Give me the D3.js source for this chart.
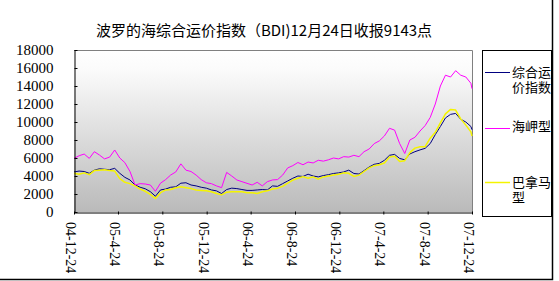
<!DOCTYPE html>
<html>
<head>
<meta charset="utf-8">
<script src="https://cdn.jsdelivr.net/npm/d3@7/dist/d3.min.js"></script>
<style>
	body { margin: 0; background: #fff; }
</style>
</head>
<body>
<div id="chart"></div>
<script>

// (data) biweekly readings, Dec 2004 - Dec 2007
var dates = [
	"2004-12-24","2005-01-07","2005-01-21","2005-02-04","2005-02-18","2005-03-04","2005-03-18","2005-04-01","2005-04-15","2005-04-29",
	"2005-05-13","2005-05-27","2005-06-10","2005-06-24","2005-07-08","2005-07-22","2005-08-05","2005-08-19","2005-09-02","2005-09-16",
	"2005-09-30","2005-10-14","2005-10-28","2005-11-11","2005-11-25","2005-12-09","2005-12-23","2006-01-06","2006-01-20","2006-02-03",
	"2006-02-17","2006-03-03","2006-03-17","2006-03-31","2006-04-14","2006-04-28","2006-05-12","2006-05-26","2006-06-09","2006-06-23",
	"2006-07-07","2006-07-21","2006-08-04","2006-08-18","2006-09-01","2006-09-15","2006-09-29","2006-10-13","2006-10-27","2006-11-10",
	"2006-11-24","2006-12-08","2006-12-22","2007-01-05","2007-01-19","2007-02-02","2007-02-16","2007-03-02","2007-03-16","2007-03-30",
	"2007-04-13","2007-04-27","2007-05-11","2007-05-25","2007-06-08","2007-06-22","2007-07-06","2007-07-20","2007-08-03","2007-08-17",
	"2007-08-31","2007-09-14","2007-09-28","2007-10-12","2007-10-26","2007-11-09","2007-11-23","2007-12-07","2007-12-21","2007-12-24"
];

var bdi = [
	4450,4550,4500,4300,4650,4800,4750,4700,4850,4300,
	3850,3560,3000,2750,2580,2260,1750,2450,2550,2750,
	2800,3200,3250,3000,2900,2750,2650,2450,2350,2050,
	2500,2650,2600,2500,2400,2400,2450,2500,2450,2900,
	2850,3150,3450,3750,4000,3950,4200,4000,3900,4050,
	4150,4280,4350,4450,4650,4280,4220,4600,5000,5300,
	5400,5750,6300,6400,5950,5800,6450,6700,6900,7070,
	7600,8600,9500,10450,10850,10950,10300,10000,9500,9143
];

var capesize = [
	5960,6250,6440,5960,6700,6330,5900,6100,6890,6000,
	5480,4500,3000,3150,3110,3000,2300,3200,3600,4110,
	4450,5350,4650,4500,4100,3600,3250,3150,2900,2700,
	4400,4000,3560,3370,3185,3000,3300,2900,3370,3560,
	3600,4100,4900,5150,5500,5250,5550,5450,5750,5650,
	5800,6000,5900,6150,6100,6300,6150,6700,7000,7600,
	7900,8450,9300,9100,7600,6500,8000,8300,9000,9600,
	10500,12000,14000,15200,15000,15700,15200,15000,14300,13700
];

var panamax = [
	4300,4200,4350,4150,4600,4650,4700,4600,4550,3700,
	3300,3150,2900,2550,2300,1950,1500,2150,2450,2500,
	2700,2800,2700,2600,2450,2400,2350,2250,2050,1900,
	2200,2250,2250,2250,2150,2150,2050,2250,2350,2550,
	2650,2850,3200,3550,3750,3930,3750,3900,3650,3900,
	4000,4100,4200,4350,4300,3950,4100,4500,4900,5150,
	5250,5450,6100,6200,5600,5700,6600,7100,7260,7260,
	8200,8850,9900,10900,11400,11330,10350,9650,8900,8450
];

var seriesNames = ["综合运价指数", "海岬型", "巴拿马型"];
var tickDates = ["2004-12-24","2005-04-24","2005-08-24","2005-12-24","2006-04-24","2006-08-24","2006-12-24","2007-04-24","2007-08-24","2007-12-24"];
var tickLabels = ["04-12-24","05-4-24","05-8-24","05-12-24","06-4-24","06-8-24","06-12-24","07-4-24","07-8-24","07-12-24"];
var yTicks = [0, 2000, 4000, 6000, 8000, 10000, 12000, 14000, 16000, 18000];
var title = "波罗的海综合运价指数（BDI)12月24日收报9143点";

var colors = ["#000080", "#ff00ff", "#f4f400"];
var parse = d3.timeParse("%Y-%m-%d");

var svg = d3.select("#chart")
	.append("svg")
	.attr("width", 559)
	.attr("height", 281);

// (scales)
var x = d3.scaleTime()
	.domain([parse(tickDates[0]), parse(tickDates[tickDates.length - 1])])
	.range([74, 472]);
var y = d3.scaleLinear()
	.domain([0, 18000])
	.range([212, 50]);

// (bg) plot area gradient
var grad = svg.append("defs")
	.append("linearGradient")
	.attr("id", "bg")
	.attr("x1", 0).attr("y1", 0)
	.attr("x2", 0).attr("y2", 1);
grad.append("stop").attr("offset", "0%").attr("stop-color", "#ffffff");
grad.append("stop").attr("offset", "12%").attr("stop-color", "#fbfbfb");
grad.append("stop").attr("offset", "100%").attr("stop-color", "#bababa");

svg.append("rect")
	.attr("x", 74)
	.attr("y", 50)
	.attr("width", 399)
	.attr("height", 162)
	.attr("fill", "url(#bg)");

// (frame) grey top and right edges
svg.append("path")
	.attr("d", "M74,50.5H472.5V212")
	.attr("fill", "none")
	.attr("stroke", "#808080");

// (lines)
var series = [bdi, capesize, panamax];
var line = d3.line()
	.x(function(d, i) { return x(parse(dates[i])); })
	.y(function(d) { return y(d); });

[0, 1, 2].forEach(function(s) {
	svg.append("path")
		.datum(series[s])
		.attr("d", line)
		.attr("fill", "none")
		.attr("stroke", colors[s])
		.attr("stroke-width", s == 2 ? 1.5 : 1)
		.attr("stroke-linejoin", "round");
});

// (axes)
var yAxis = svg.append("g")
	.attr("transform", "translate(74.5,0)")
	.call(d3.axisLeft(y).tickValues(yTicks).tickFormat(d3.format("d")).tickSize(-3).tickSizeOuter(0).tickPadding(21));
yAxis.selectAll("text")
	.attr("font-family", "Liberation Serif, serif")
	.attr("font-size", "15px")
	.attr("fill", "#000");

var xAxis = svg.append("g")
	.attr("transform", "translate(0,212.5)")
	.call(d3.axisBottom(x).tickValues(tickDates.map(parse)).tickSize(3).tickSizeOuter(0).tickFormat(""));
xAxis.selectAll("line").attr("transform", "translate(0,-1)");

svg.selectAll(".xlab")
	.data(tickDates)
	.enter()
	.append("text")
	.attr("class", "xlab")
	.attr("transform", function(d) { return "translate(" + (x(parse(d)) - 3) + ",222) rotate(90)"; })
	.attr("dy", "0.35em")
	.attr("font-family", "Liberation Serif, serif")
	.attr("font-size", "14px")
	.text(function(d, i) { return tickLabels[i]; });

// (title)
svg.append("text")
	.attr("x", 264)
	.attr("y", 36)
	.attr("text-anchor", "middle")
	.attr("font-family", "Noto Sans CJK SC")
	.attr("font-size", "15px")
	.text(title);

// (legend)
svg.append("rect")
	.attr("x", 482.5)
	.attr("y", 50.5)
	.attr("width", 69)
	.attr("height", 166)
	.attr("fill", "#fff")
	.attr("stroke", "#000");

var legendY = [72.5, 128.5, 182.5];
seriesNames.forEach(function(name, i) {
	svg.append("line")
		.attr("x1", 485).attr("x2", 510)
		.attr("y1", legendY[i]).attr("y2", legendY[i])
		.attr("stroke", colors[i])
		.attr("stroke-width", i == 2 ? 1.5 : 1);
	var rows = name.match(/.{1,3}/g);
	rows.forEach(function(r, j) {
		svg.append("text")
			.attr("x", 512)
			.attr("y", legendY[i] + (i == 1 ? -2 : 0) + j * 14.5)
			.attr("dy", "0.35em")
			.attr("font-family", "Liberation Sans, Noto Sans CJK SC")
			.attr("font-size", "13px")
			.text(r);
	});
});

// (border) outer chart edge
svg.append("path")
	.attr("d", "M552.5,0V279.5H0")
	.attr("fill", "none")
	.attr("stroke", "#000")
	.attr("stroke-width", 1.5);

</script>
</body>
</html>
